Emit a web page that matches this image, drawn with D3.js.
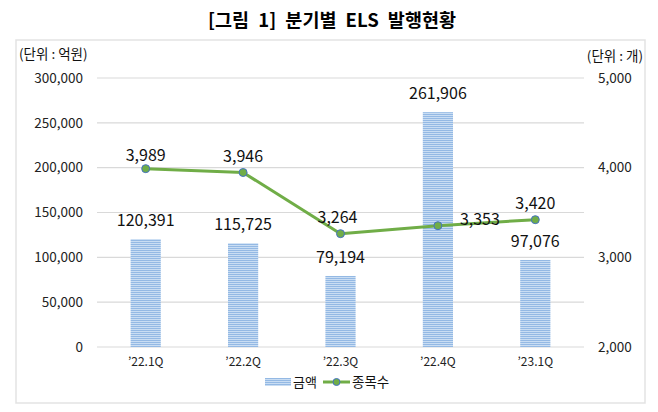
<!DOCTYPE html>
<html><head><meta charset="utf-8">
<script src="https://cdn.jsdelivr.net/npm/d3@7"></script>
<style>body{margin:0;background:#fff}</style>
</head><body>
<svg id="c" width="658" height="412"></svg>
<script>
const categories = ["\u201922.1Q","\u201922.2Q","\u201922.3Q","\u201922.4Q","\u201923.1Q"];
const amounts = [120391, 115725, 79194, 261906, 97076];
const counts = [3989, 3946, 3264, 3353, 3420];
const leftTicks = [0, 50000, 100000, 150000, 200000, 250000, 300000];
const rightTicks = [2000, 3000, 4000, 5000];

const svg = d3.select("#c");
const font = "'Noto Sans CJK KR','Noto Sans',sans-serif";
const m = {l:97, r:584, t:78, b:347};

// border
svg.append("rect").attr("x",16).attr("y",40).attr("width",629).attr("height",363)
  .attr("fill","none").attr("stroke","#e3e3e3").attr("stroke-width",1.5);

// title
svg.append("text").attr("x",332).attr("y",27).attr("text-anchor","middle")
  .attr("font-family",font).attr("font-weight","bold").attr("font-size",18.5)
  .attr("word-spacing",5).attr("fill","#000").text("[그림 1] 분기별 ELS 발행현황");

// pattern
const defs = svg.append("defs");
const pat = defs.append("pattern").attr("id","stripe").attr("patternUnits","userSpaceOnUse")
  .attr("width",4).attr("height",2);
pat.append("rect").attr("width",4).attr("height",2).attr("fill","#c9ddf3");
pat.append("rect").attr("width",4).attr("height",1).attr("fill","#94b9e4");

const x = d3.scaleBand().domain(categories).range([m.l, m.r]).paddingInner(0.69).paddingOuter(0.345);
const y = d3.scaleLinear().domain([0,300000]).range([m.b, m.t]);
const y2 = d3.scaleLinear().domain([2000,5000]).range([m.b, m.t]);

// grid
const grid = svg.append("g");
grid.selectAll("line").data(leftTicks).join("line")
  .attr("x1",m.l).attr("x2",m.r).attr("y1",d=>y(d)).attr("y2",d=>y(d))
  .attr("stroke","#d9d9d9").attr("stroke-width",1.2);

// left axis
const fmt = d3.format(",");
const la = svg.append("g").attr("transform",`translate(${m.l},0)`)
  .call(d3.axisLeft(y).tickValues(leftTicks).tickFormat(fmt).tickSize(0).tickPadding(14));
la.select(".domain").remove();
la.selectAll("text").attr("font-family",font).attr("font-size",13.5).attr("fill","#222");

const ra = svg.append("g").attr("transform",`translate(${m.r},0)`)
  .call(d3.axisRight(y2).tickValues(rightTicks).tickFormat(fmt).tickSize(0).tickPadding(14));
ra.select(".domain").remove();
ra.selectAll("text").attr("font-family",font).attr("font-size",13.5).attr("fill","#222");

// x axis
const xa = svg.append("g").attr("transform",`translate(0,${m.b})`)
  .call(d3.axisBottom(x).tickSize(0).tickPadding(10));
xa.select(".domain").remove();
xa.selectAll("text").attr("font-family",font).attr("font-size",12).attr("fill","#222");

// unit labels
svg.append("text").attr("x",19).attr("y",59).attr("font-family",font).attr("font-size",13.5).attr("fill","#111").text("(단위 : 억원)");
svg.append("text").attr("x",643).attr("y",61).attr("text-anchor","end").attr("font-family",font).attr("font-size",13.5).attr("fill","#111").text("(단위 : 개)");

// bars
svg.append("g").selectAll("rect").data(amounts).join("rect")
  .attr("x",(d,i)=>x(categories[i])).attr("width",x.bandwidth())
  .attr("y",d=>y(d)).attr("height",d=>m.b-y(d)).attr("fill","url(#stripe)");

// line
const line = d3.line().x((d,i)=>x(categories[i])+x.bandwidth()/2).y(d=>y2(d));
svg.append("path").datum(counts).attr("d",line).attr("fill","none")
  .attr("stroke","#70ad47").attr("stroke-width",3).attr("stroke-linejoin","round");
svg.append("g").selectAll("circle").data(counts).join("circle")
  .attr("cx",(d,i)=>x(categories[i])+x.bandwidth()/2).attr("cy",d=>y2(d)).attr("r",4)
  .attr("fill","#70ad47").attr("stroke","#4472c4").attr("stroke-width",1);

// labels
svg.append("g").selectAll("text").data(amounts).join("text")
  .attr("x",(d,i)=>x(categories[i])+x.bandwidth()/2)
  .attr("y",d=>y(d)-19).attr("dy","0.35em").attr("text-anchor","middle")
  .attr("font-family",font).attr("font-size",16).attr("fill","#111").text(d=>fmt(d));
const lineDx = [0,0,-3,42,0];
const lineDy = [-13,-16,-16,-6,-16];
svg.append("g").selectAll("text").data(counts).join("text")
  .attr("x",(d,i)=>x(categories[i])+x.bandwidth()/2+lineDx[i])
  .attr("y",(d,i)=>y2(d)+lineDy[i]).attr("dy","0.35em").attr("text-anchor","middle")
  .attr("font-family",font).attr("font-size",16).attr("fill","#111").text(d=>fmt(d));

// legend
const lg = svg.append("g");
lg.append("rect").attr("x",265).attr("y",378).attr("width",26).attr("height",8).attr("fill","url(#stripe)");
lg.append("text").attr("x",293).attr("y",387).attr("font-family",font).attr("font-size",13).attr("fill","#111").text("금액");
lg.append("line").attr("x1",323).attr("x2",350).attr("y1",382).attr("y2",382).attr("stroke","#70ad47").attr("stroke-width",3);
lg.append("circle").attr("cx",336.5).attr("cy",382).attr("r",3.5).attr("fill","#70ad47").attr("stroke","#4472c4").attr("stroke-width",1);
lg.append("text").attr("x",352).attr("y",387).attr("font-family",font).attr("font-size",13.5).attr("fill","#111").text("종목수");
</script>
</body></html>
